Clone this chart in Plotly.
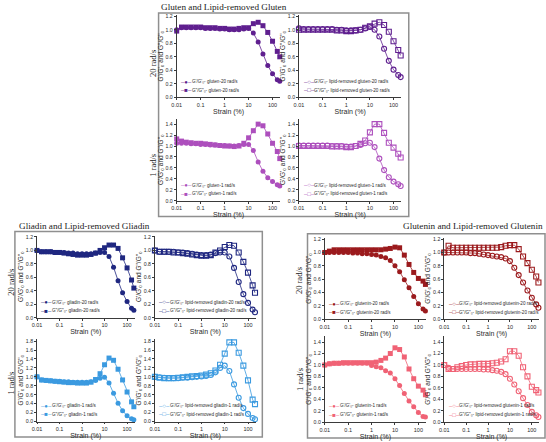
import plotly.graph_objects as go

W, H = 546, 442

strain = [0.01, 0.0158, 0.0251, 0.0398, 0.0631, 0.1, 0.158, 0.251, 0.398, 0.631,
          1, 1.58, 2.51, 3.98, 6.31, 10, 15.8, 25.1, 39.8, 63.1, 100, 158, 200]

gluten20_Gp = [1.00, 1.03, 1.03, 1.03, 1.03, 1.03, 1.02, 1.02, 1.02, 1.01, 1.01, 1.00, 1.00, 1.00, 1.01, 1.02, 0.95, 0.82, 0.64, 0.47, 0.35, 0.26, 0.24]
gluten20_Gpp = [0.98, 1.04, 1.04, 1.04, 1.04, 1.04, 1.03, 1.03, 1.03, 1.02, 1.02, 1.01, 1.01, 1.02, 1.03, 1.03, 1.09, 1.11, 1.06, 0.96, 0.83, 0.68, 0.60]
lrgluten20_Gp = [1.02, 1.01, 1.01, 1.01, 1.01, 1.01, 1.01, 1.01, 1.00, 1.00, 0.99, 0.99, 0.99, 1.00, 1.02, 1.04, 1.00, 0.90, 0.72, 0.54, 0.41, 0.33, 0.30]
lrgluten20_Gpp = [1.00, 1.00, 1.00, 1.00, 1.00, 1.00, 1.00, 1.00, 0.99, 0.99, 0.98, 0.98, 0.99, 1.00, 1.03, 1.05, 1.09, 1.11, 1.07, 0.97, 0.83, 0.70, 0.62]
gluten1_Gp = [1.05, 1.05, 1.05, 1.04, 1.04, 1.03, 1.03, 1.02, 1.02, 1.01, 1.01, 1.00, 1.00, 1.01, 1.03, 1.03, 0.92, 0.71, 0.54, 0.42, 0.35, 0.29, 0.27]
gluten1_Gpp = [1.13, 1.09, 1.07, 1.06, 1.05, 1.05, 1.04, 1.03, 1.02, 1.01, 1.00, 1.00, 0.99, 1.00, 1.05, 1.15, 1.28, 1.40, 1.37, 1.22, 1.05, 0.90, 0.77]
lrgluten1_Gp = [1.01, 1.01, 1.01, 1.01, 1.01, 1.01, 1.01, 1.00, 1.00, 1.00, 0.99, 0.99, 1.00, 1.02, 1.05, 1.06, 0.98, 0.77, 0.56, 0.43, 0.35, 0.30, 0.27]
lrgluten1_Gpp = [1.00, 1.00, 1.00, 1.00, 1.00, 1.00, 1.00, 0.99, 0.99, 0.99, 0.98, 0.98, 1.00, 1.04, 1.10, 1.25, 1.40, 1.40, 1.24, 1.06, 0.97, 0.86, 0.79]

gliadin20_Gp = [1.00, 0.98, 0.98, 0.98, 0.97, 0.97, 0.97, 0.96, 0.96, 0.95, 0.95, 0.95, 0.95, 0.96, 0.97, 0.97, 0.91, 0.75, 0.55, 0.37, 0.24, 0.14, 0.11]
gliadin20_Gpp = [1.00, 0.98, 0.98, 0.98, 0.97, 0.97, 0.96, 0.95, 0.94, 0.93, 0.93, 0.93, 0.94, 0.96, 1.00, 1.04, 1.08, 1.08, 1.03, 0.89, 0.74, 0.56, 0.44]
lrgliadin20_Gp = [1.00, 0.98, 0.98, 0.98, 0.98, 0.97, 0.97, 0.96, 0.95, 0.94, 0.93, 0.93, 0.94, 0.96, 0.97, 0.97, 0.91, 0.74, 0.53, 0.35, 0.22, 0.12, 0.08]
lrgliadin20_Gpp = [1.00, 0.98, 0.98, 0.98, 0.97, 0.97, 0.96, 0.95, 0.94, 0.93, 0.92, 0.92, 0.93, 0.97, 1.00, 1.05, 1.08, 1.07, 0.97, 0.83, 0.67, 0.48, 0.37]
gliadin1_Gp = [1.00, 0.93, 0.92, 0.91, 0.90, 0.90, 0.89, 0.89, 0.88, 0.88, 0.88, 0.88, 0.89, 0.92, 0.97, 0.99, 0.86, 0.63, 0.41, 0.24, 0.13, 0.06, 0.04]
gliadin1_Gpp = [1.00, 0.93, 0.92, 0.91, 0.90, 0.89, 0.88, 0.87, 0.87, 0.86, 0.86, 0.86, 0.88, 0.94, 1.07, 1.27, 1.42, 1.37, 1.17, 0.93, 0.66, 0.44, 0.33]
lrgliadin1_Gp = [1.00, 0.99, 0.98, 0.97, 0.97, 0.97, 0.98, 0.98, 0.99, 1.00, 1.01, 1.02, 1.04, 1.10, 1.20, 1.25, 1.13, 0.83, 0.53, 0.30, 0.17, 0.08, 0.05]
lrgliadin1_Gpp = [1.00, 0.98, 0.97, 0.97, 0.97, 0.98, 0.99, 1.00, 1.01, 1.02, 1.03, 1.05, 1.08, 1.14, 1.27, 1.52, 1.77, 1.77, 1.54, 1.25, 0.92, 0.49, 0.39]

glutenin20_Gp = [1.00, 1.00, 1.00, 1.00, 1.00, 1.00, 0.99, 0.99, 0.98, 0.98, 0.97, 0.96, 0.94, 0.92, 0.88, 0.80, 0.71, 0.59, 0.47, 0.34, 0.23, 0.15, 0.12]
glutenin20_Gpp = [1.00, 1.02, 1.04, 1.04, 1.04, 1.04, 1.04, 1.04, 1.04, 1.04, 1.04, 1.04, 1.04, 1.05, 1.06, 1.08, 1.07, 0.96, 0.82, 0.70, 0.61, 0.57, 0.52]
lrglutenin20_Gp = [1.00, 1.00, 1.00, 1.00, 1.00, 1.00, 0.99, 0.99, 0.98, 0.97, 0.96, 0.95, 0.94, 0.93, 0.91, 0.87, 0.77, 0.66, 0.55, 0.43, 0.32, 0.22, 0.17]
lrglutenin20_Gpp = [1.00, 1.10, 1.07, 1.07, 1.07, 1.07, 1.07, 1.07, 1.07, 1.07, 1.07, 1.07, 1.07, 1.08, 1.10, 1.11, 1.11, 1.05, 0.94, 0.84, 0.74, 0.64, 0.55]
glutenin1_Gp = [1.00, 1.02, 1.03, 1.03, 1.03, 1.03, 1.03, 1.03, 1.03, 1.03, 0.99, 0.97, 0.95, 0.90, 0.86, 0.76, 0.64, 0.50, 0.37, 0.27, 0.17, 0.10, 0.09]
glutenin1_Gpp = [1.00, 1.02, 1.03, 1.03, 1.04, 1.04, 1.04, 1.04, 1.04, 1.04, 1.04, 1.05, 1.08, 1.12, 1.20, 1.30, 1.27, 1.14, 0.93, 0.76, 0.63, 0.56, 0.48]
lrglutenin1_Gp = [1.00, 0.95, 0.93, 0.93, 0.93, 0.93, 0.93, 0.93, 0.93, 0.92, 0.92, 0.91, 0.90, 0.88, 0.84, 0.76, 0.66, 0.54, 0.42, 0.30, 0.18, 0.12, 0.09]
lrglutenin1_Gpp = [1.00, 0.93, 0.93, 0.96, 0.98, 1.00, 1.01, 1.01, 1.02, 1.02, 1.02, 1.03, 1.04, 1.06, 1.10, 1.24, 1.24, 1.16, 0.96, 0.80, 0.62, 0.56, 0.52]

panel_titles = ["Gluten and Lipid-removed Gluten",
                "Gliadin and Lipid-removed Gliadin",
                "Glutenin and Lipid-removed Glutenin"]
row_labels = ["20 rad/s", "1 rad/s"]
x_tickvals = [0.01, 0.1, 1, 10, 100]
x_ticktext = ["0.01", "0.1", "1", "10", "100"]

C_GLU20, C_GLU1 = "#5f1f8f", "#ad4fbd"
C_GLI20, C_GLI1 = "#1f2780", "#3b9ae0"
C_GLT20, C_GLT1 = "#9b1a1d", "#f06275"

# (Gp, Gpp, colour, open markers, label, pixel box x0, x1, ytop, ybottom, ymax)
subplots = [
    (gluten20_Gp, gluten20_Gpp, C_GLU20, False, "gluten-20 rad/s", 173.3, 278, 13, 96.5, 1.22),
    (lrgluten20_Gp, lrgluten20_Gpp, C_GLU20, True, "lipid-removed gluten-20 rad/s", 296.7, 400, 13, 96.5, 1.22),
    (gluten1_Gp, gluten1_Gpp, C_GLU1, False, "gluten-1 rad/s", 173.3, 278, 118, 201, 1.5),
    (lrgluten1_Gp, lrgluten1_Gpp, C_GLU1, True, "lipid-removed gluten-1 rad/s", 296.7, 400, 118, 201, 1.5),
    (gliadin20_Gp, gliadin20_Gpp, C_GLI20, False, "gliadin-20 rad/s", 32.3, 130.7, 236.3, 319.3, 1.22),
    (lrgliadin20_Gp, lrgliadin20_Gpp, C_GLI20, True, "lipid-removed gliadin-20 rad/s", 151.3, 253, 236.3, 319.3, 1.22),
    (gliadin1_Gp, gliadin1_Gpp, C_GLI1, False, "gliadin-1 rad/s", 32.3, 130.7, 340.7, 424.3, 1.85),
    (lrgliadin1_Gp, lrgliadin1_Gpp, C_GLI1, True, "lipid-removed gliadin-1 rad/s", 151.3, 253, 340.7, 424.3, 1.85),
    (glutenin20_Gp, glutenin20_Gpp, C_GLT20, False, "glutenin-20 rad/s", 322.7, 425, 238.5, 320.7, 1.22),
    (lrglutenin20_Gp, lrglutenin20_Gpp, C_GLT20, True, "lipid-removed glutenin-20 rad/s", 443.3, 539, 238.5, 320.7, 1.22),
    (glutenin1_Gp, glutenin1_Gpp, C_GLT1, False, "glutenin-1 rad/s", 322.7, 425, 338.2, 425, 1.5),
    (lrglutenin1_Gp, lrglutenin1_Gpp, C_GLT1, True, "lipid-removed glutenin-1 rad/s", 443.3, 539, 338.2, 425, 1.5),
]

FONT = "Liberation Sans, Arial, DejaVu Sans, sans-serif"
SERIF = "Liberation Serif, Times New Roman, serif"
AX = "#3a3a3a"
TXT = "#2a2a2a"

fig = go.Figure()
layout = dict(width=W, height=H, margin=dict(l=0, r=0, t=0, b=0),
              paper_bgcolor="white", plot_bgcolor="white", showlegend=False)
annotations = []

for k, (gp, gpp, col, is_open, label, x0, x1, yt, yb, ymax) in enumerate(subplots, start=1):
    sfx = "" if k == 1 else str(k)
    sym_c = "circle-open" if is_open else "circle"
    sym_s = "square-open" if is_open else "square"
    name1 = "G'/G'₀- " + label
    name2 = 'G"/G"₀- ' + label
    for vals, sym, nm in ((gpp, sym_s, name2), (gp, sym_c, name1)):
        fig.add_trace(go.Scatter(
            x=strain, y=vals, mode="lines+markers", name=nm,
            xaxis="x" + sfx, yaxis="y" + sfx, cliponaxis=False,
            line=dict(color=col, width=0.8),
            marker=dict(symbol=sym, size=5, color=col,
                        line=dict(color=col, width=1.1 if is_open else 0)),
        ))
    layout["xaxis" + sfx] = dict(
        domain=[x0 / W, x1 / W], anchor="y" + sfx, type="log", range=[-2, 2.33],
        tickvals=x_tickvals, ticktext=x_ticktext,
        ticks="outside", ticklen=2, tickwidth=0.7, tickcolor=AX,
        showline=True, linecolor=AX, linewidth=0.8, showgrid=False, zeroline=False,
        tickfont=dict(family=FONT, size=5.5, color=TXT),
        title=dict(text="Strain (%)", font=dict(family=FONT, size=7, color=TXT), standoff=0),
    )
    layout["yaxis" + sfx] = dict(
        domain=[1 - yb / H, 1 - yt / H], anchor="x" + sfx, range=[0, ymax],
        dtick=0.2, tick0=0, tickformat=".1f",
        ticks="outside", ticklen=2, tickwidth=0.7, tickcolor=AX,
        showline=True, linecolor=AX, linewidth=0.8, showgrid=False, zeroline=False,
        tickfont=dict(family=FONT, size=5.2, color=TXT),
        title=dict(text="G'/G'₀ and G\"/G\"₀",
                   font=dict(family=FONT, size=6.5, color=TXT), standoff=1),
    )
    mk_c = "○" if is_open else "●"
    mk_s = "□" if is_open else "■"
    for ypos, mk, nm in ((0.19, mk_c, name1), (0.085, mk_s, name2)):
        annotations.append(dict(
            xref="x" + sfx + " domain", yref="y" + sfx + " domain",
            x=0.025, y=ypos, xanchor="left", yanchor="middle", showarrow=False,
            text="–" + mk + "–", font=dict(family=FONT, size=6, color=col),
        ))
        annotations.append(dict(
            xref="x" + sfx + " domain", yref="y" + sfx + " domain",
            x=0.13, y=ypos, xanchor="left", yanchor="middle", showarrow=False,
            text=nm, font=dict(family=FONT, size=4.6, color=TXT),
        ))

# panel frames, titles, row labels
frames = [(155, 11, 407.5, 217), (10, 232, 259.7, 440), (305.3, 234.3, 545, 441)]
shapes = []
for (fx0, fy0, fx1, fy1) in frames:
    shapes.append(dict(type="rect", xref="paper", yref="paper",
                       x0=fx0 / W, x1=fx1 / W, y0=1 - fy1 / H, y1=1 - fy0 / H,
                       line=dict(color="#8f8f8f", width=1.5), fillcolor="rgba(0,0,0,0)", layer="below"))

title_pos = [(155, 5, "left"), (12, 227, "left"), (545, 227, "right")]
for t, (tx, ty, anc) in zip(panel_titles, title_pos):
    annotations.append(dict(xref="paper", yref="paper", x=tx / W, y=1 - ty / H,
                            xanchor=anc, yanchor="middle", showarrow=False, text=t,
                            font=dict(family=SERIF, size=9.2, color="#222")))

row_pos = [(150, 62, 165), (6, 283, 385), (297, 282, 382)]
for (rx, ry1, ry2) in row_pos:
    for lab, ry in zip(row_labels, (ry1, ry2)):
        annotations.append(dict(xref="paper", yref="paper", x=rx / W, y=1 - ry / H,
                                xanchor="center", yanchor="middle", showarrow=False,
                                text=lab, textangle=-90,
                                font=dict(family=SERIF, size=8.5, color="#222")))

layout["annotations"] = annotations
layout["shapes"] = shapes
fig.update_layout(**layout)
fig.write_html("out.html")
